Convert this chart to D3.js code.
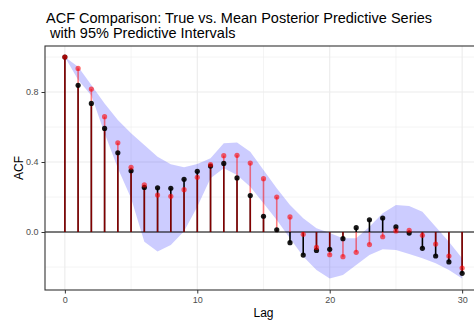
<!DOCTYPE html>
<html lang="en">
<head>
    <meta charset="UTF-8">
    <title>ACF Comparison</title>
    <script src="https://d3js.org/d3.v7.min.js"></script>
    <style>
        body { margin: 0; background: #fff; }
        text { font-family: "Liberation Sans", Arial, sans-serif; }
        .tick-label { font-size: 9px; fill: #4d4d4d; }
        .axis-title { font-size: 12px; fill: #000; }
        .title { font-size: 14.5px; fill: #000; }
    </style>
</head>
<body>
<svg width="474" height="322"></svg>

<script>
    // lag values
    const lags = d3.range(0, 31);

    // ACF of the true series
    const trueAcf = [1.0, 0.838, 0.735, 0.592, 0.453, 0.35, 0.255, 0.253, 0.25, 0.301,
        0.347, 0.377, 0.392, 0.309, 0.208, 0.09, 0.013, -0.061, -0.132, -0.105,
        -0.099, -0.038, 0.025, 0.07, 0.08, 0.029, -0.006, -0.093, -0.137, -0.171, -0.236];

    // ACF of the mean posterior predictive series
    const meanAcf = [1.0, 0.935, 0.817, 0.659, 0.51, 0.37, 0.269, 0.211, 0.204, 0.242,
        0.313, 0.385, 0.436, 0.438, 0.394, 0.305, 0.2, 0.086, -0.013, -0.088,
        -0.13, -0.141, -0.116, -0.072, -0.027, 0.006, 0.01, -0.019, -0.069, -0.137, -0.206];

    // 95% predictive interval
    const upperPI = [1.0, 0.945, 0.84, 0.735, 0.64, 0.564, 0.497, 0.43, 0.387, 0.37,
        0.389, 0.421, 0.507, 0.512, 0.459, 0.354, 0.25, 0.154, 0.078, 0.021,
        -0.006, -0.036, -0.036, 0.03, 0.107, 0.154, 0.149, 0.116, 0.03, -0.055, -0.15];
    const lowerPI = [1.0, 0.87, 0.78, 0.564, 0.364, 0.193, -0.055, -0.112, -0.074, 0.005,
        0.145, 0.307, 0.364, 0.326, 0.259, 0.164, 0.069, -0.035, -0.14, -0.217,
        -0.265, -0.246, -0.189, -0.131, -0.099, -0.103, -0.126, -0.15, -0.179, -0.217, -0.265];

    const xTicks = [0, 10, 20, 30];
    const xMinor = [5, 15, 25];
    const yTicks = [0.0, 0.4, 0.8];
    const yMinor = [-0.2, 0.2, 0.6, 1.0];

    const svg = d3.select("svg");

    const pLeft = 45, pRight = 482, pTop = 46, pBottom = 290;

    const x = d3.scaleLinear().domain([-1.5, 31.5]).range([pLeft, pRight]);
    const y = d3.scaleLinear().domain([-0.3314, 1.0629]).range([pBottom, pTop]);

    const data = lags.map((l, i) => ({
        lag: l, tru: trueAcf[i], mean: meanAcf[i], lo: lowerPI[i], hi: upperPI[i]
    }));

    // grid
    const grid = svg.append("g");
    grid.selectAll(".ymin").data(yMinor).enter().append("line")
        .attr("x1", pLeft).attr("x2", pRight)
        .attr("y1", d => y(d)).attr("y2", d => y(d))
        .attr("stroke", "#ebebeb").attr("stroke-width", 0.55);
    grid.selectAll(".xmin").data(xMinor).enter().append("line")
        .attr("y1", pTop).attr("y2", pBottom)
        .attr("x1", d => x(d)).attr("x2", d => x(d))
        .attr("stroke", "#ebebeb").attr("stroke-width", 0.55);
    grid.selectAll(".ymaj").data(yTicks).enter().append("line")
        .attr("x1", pLeft).attr("x2", pRight)
        .attr("y1", d => y(d)).attr("y2", d => y(d))
        .attr("stroke", "#ebebeb").attr("stroke-width", 1.1);
    grid.selectAll(".xmaj").data(xTicks).enter().append("line")
        .attr("y1", pTop).attr("y2", pBottom)
        .attr("x1", d => x(d)).attr("x2", d => x(d))
        .attr("stroke", "#ebebeb").attr("stroke-width", 1.1);

    // predictive interval ribbon
    const area = d3.area()
        .x(d => x(d.lag))
        .y0(d => y(d.lo))
        .y1(d => y(d.hi));
    svg.append("path")
        .datum(data)
        .attr("d", area)
        .attr("fill", "blue")
        .attr("fill-opacity", 0.2);

    // zero line
    svg.append("line")
        .attr("x1", pLeft).attr("x2", pRight)
        .attr("y1", y(0)).attr("y2", y(0))
        .attr("stroke", "black").attr("stroke-width", 1);

    // stems
    svg.append("g").selectAll("line")
        .data(data).enter().append("line")
        .attr("x1", d => x(d.lag)).attr("x2", d => x(d.lag))
        .attr("y1", y(0)).attr("y2", d => y(d.tru))
        .attr("stroke", "black").attr("stroke-width", 1.6);
    svg.append("g").selectAll("line")
        .data(data).enter().append("line")
        .attr("x1", d => x(d.lag)).attr("x2", d => x(d.lag))
        .attr("y1", y(0)).attr("y2", d => y(d.mean))
        .attr("stroke", "red").attr("stroke-opacity", 0.5).attr("stroke-width", 1.6);

    // points
    svg.append("g").selectAll("circle")
        .data(data).enter().append("circle")
        .attr("cx", d => x(d.lag)).attr("cy", d => y(d.tru))
        .attr("r", 2.6)
        .attr("fill", "black").attr("fill-opacity", 0.9);
    svg.append("g").selectAll("circle")
        .data(data).enter().append("circle")
        .attr("cx", d => x(d.lag)).attr("cy", d => y(d.mean))
        .attr("r", 2.6)
        .attr("fill", "red").attr("fill-opacity", 0.6);

    // panel border
    svg.append("rect")
        .attr("x", pLeft).attr("y", pTop)
        .attr("width", pRight - pLeft).attr("height", pBottom - pTop)
        .attr("fill", "none").attr("stroke", "#333333").attr("stroke-width", 1.1);

    // axes
    const xAxis = svg.append("g")
        .attr("transform", `translate(0,${pBottom})`)
        .call(d3.axisBottom(x).tickValues(xTicks).tickSize(3.5).tickPadding(3.5).tickFormat(d3.format("d")));
    xAxis.select(".domain").remove();
    xAxis.selectAll("line").attr("stroke", "#333333");
    xAxis.selectAll("text").attr("class", "tick-label").attr("font-size", null).attr("font-family", null);

    const yAxis = svg.append("g")
        .attr("transform", `translate(${pLeft},0)`)
        .call(d3.axisLeft(y).tickValues(yTicks).tickSize(3.5).tickPadding(3).tickFormat(d3.format(".1f")));
    yAxis.select(".domain").remove();
    yAxis.selectAll("line").attr("stroke", "#333333");
    yAxis.selectAll("text").attr("class", "tick-label").attr("font-size", null).attr("font-family", null);

    // titles
    svg.append("text").attr("class", "axis-title")
        .attr("x", (pLeft + pRight) / 2).attr("y", 317)
        .attr("text-anchor", "middle").text("Lag");
    svg.append("text").attr("class", "axis-title")
        .attr("transform", `translate(23,${(pTop + pBottom) / 2}) rotate(-90)`)
        .attr("text-anchor", "middle").text("ACF");

    svg.append("text").attr("class", "title")
        .attr("x", 46).attr("y", 23)
        .text("ACF Comparison: True vs. Mean Posterior Predictive Series");
    svg.append("text").attr("class", "title")
        .attr("x", 46).attr("y", 38)
        .attr("xml:space", "preserve")
        .text(" with 95% Predictive Intervals");
</script>
</body>
</html>
